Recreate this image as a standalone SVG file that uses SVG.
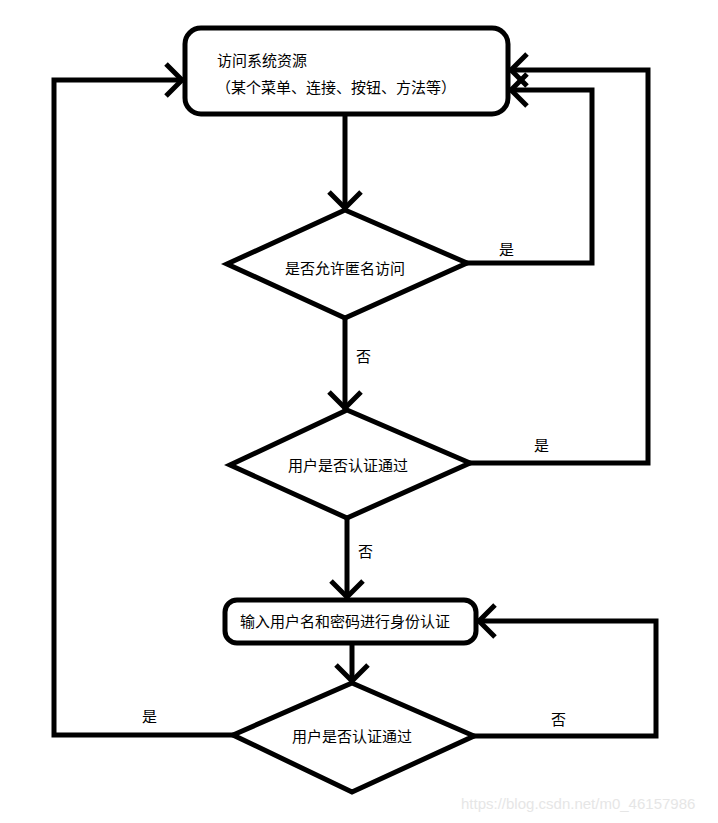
<svg xmlns="http://www.w3.org/2000/svg" width="718" height="823" viewBox="0 0 718 823">
<style>
.s{fill:none;stroke:#000;stroke-width:5;stroke-linejoin:miter;stroke-linecap:square}
.n{fill:#fff;stroke:#000;stroke-width:5}
.t{font-family:"Microsoft YaHei","Noto Sans CJK SC",sans-serif;font-size:15px;fill:#000}
.w{font-family:"Liberation Sans",Arial,sans-serif;font-size:15px;fill:#e6e6e6}
</style>
<defs>
<marker id="a" markerUnits="userSpaceOnUse" markerWidth="40" markerHeight="40" refX="20" refY="20" orient="auto">
<path d="M4,4 L20,20 L4,36" fill="none" stroke="#000" stroke-width="5"/>
</marker>
</defs>
<rect width="718" height="823" fill="#fff"/>
<g id="connectors">
<path class="s" d="M345,114 V208" marker-end="url(#a)"/>
<path class="s" d="M467,263 H592 V90 H511" marker-end="url(#a)"/>
<path class="s" d="M345,318 V408" marker-end="url(#a)"/>
<path class="s" d="M470,463 H648 V70 H511" marker-end="url(#a)"/>
<path class="s" d="M347,518 V597" marker-end="url(#a)"/>
<path class="s" d="M352,643 V681" marker-end="url(#a)"/>
<path class="s" d="M474,736 H656 V621 H479" marker-end="url(#a)"/>
<path class="s" d="M233,735 H54 V80 H182" marker-end="url(#a)"/>
<text class="t" x="499" y="255">是</text>
<text class="t" x="356" y="362">否</text>
<text class="t" x="534" y="451">是</text>
<text class="t" x="358" y="557">否</text>
<text class="t" x="551" y="725">否</text>
<text class="t" x="142" y="722">是</text>
</g>
<g id="start">
<rect class="n" x="185" y="28" width="323" height="86" rx="16" ry="16"/>
<text class="t" x="217" y="66">访问系统资源</text>
<text class="t" x="216" y="93">（某个菜单、连接、按钮、方法等）</text>
</g>
<g id="anon">
<polygon class="n" points="345,210 467,263 345,318 227,264"/>
<text class="t" x="345" y="274" text-anchor="middle">是否允许匿名访问</text>
</g>
<g id="auth1">
<polygon class="n" points="347,410 470,463 347,518 230,465"/>
<text class="t" x="348" y="471" text-anchor="middle">用户是否认证通过</text>
</g>
<g id="login">
<rect class="n" x="225" y="600" width="251" height="43" rx="12" ry="12"/>
<text class="t" x="240" y="627">输入用户名和密码进行身份认证</text>
</g>
<g id="auth2">
<polygon class="n" points="352,683 474,736 352,792 233,735"/>
<text class="t" x="352" y="742" text-anchor="middle">用户是否认证通过</text>
</g>
<text class="w" x="461" y="809">https://blog.csdn.net/m0_46157986</text>
</svg>
